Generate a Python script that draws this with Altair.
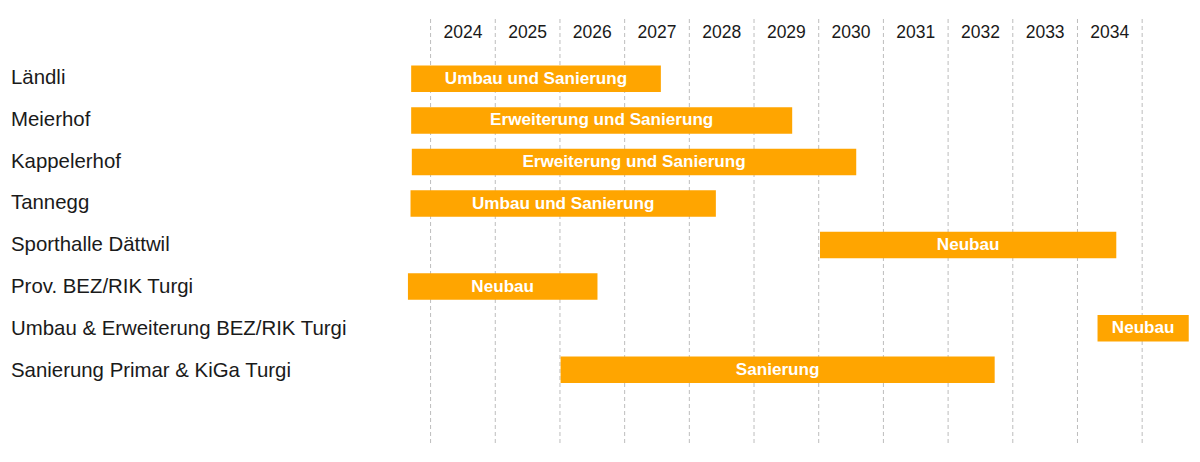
import altair as alt
import pandas as pd

# ---- data ----
rows = ["Ländli", "Meierhof", "Kappelerhof", "Tannegg", "Sporthalle Dättwil",
        "Prov. BEZ/RIK Turgi", "Umbau & Erweiterung BEZ/RIK Turgi",
        "Sanierung Primar & KiGa Turgi"]
starts = [2023.70, 2023.70, 2023.71, 2023.69, 2030.02, 2023.65, 2034.31, 2026.01]
ends = [2027.56, 2029.59, 2030.58, 2028.41, 2034.60, 2026.58, 2035.72, 2032.72]
phases = ["Umbau und Sanierung", "Erweiterung und Sanierung",
          "Erweiterung und Sanierung", "Umbau und Sanierung", "Neubau",
          "Neubau", "Neubau", "Sanierung"]
year_labels = list(range(2024, 2035))
grid_years = list(range(2024, 2036))

tasks = pd.DataFrame({"row": rows, "start": starts, "end": ends, "phase": phases})
tasks["mid"] = (tasks["start"] + tasks["end"]) / 2
yl = pd.DataFrame({"year": year_labels, "pos": [y + 0.5 for y in year_labels]})
gl = pd.DataFrame({"year": grid_years})

FONT = "Liberation Sans"
ORANGE = "#FFA500"

xscale = alt.Scale(domain=[2017.344, 2035.894], nice=False, zero=False)
ybar = alt.Scale(domain=rows, paddingInner=0.362, paddingOuter=0, range=[65.6, 382.96])
ylab = alt.Scale(domain=rows, paddingInner=0, paddingOuter=0, range=[57.0, 391.5])

grid = alt.Chart(gl).mark_rule(color="#bdbdbd", strokeWidth=1, strokeDash=[4, 3]).encode(
    x=alt.X("year:Q", scale=xscale, axis=None),
    y=alt.value(19),
    y2=alt.value(443),
)

years_txt = alt.Chart(yl).mark_text(font=FONT, fontSize=17.5, color="#1a1a1a",
                                    baseline="middle", align="center").encode(
    x=alt.X("pos:Q", scale=xscale, axis=None),
    y=alt.value(33),
    text=alt.Text("year:N"),
)

bars = alt.Chart(tasks).mark_bar(color=ORANGE).encode(
    x=alt.X("start:Q", scale=xscale, axis=None),
    x2="end:Q",
    y=alt.Y("row:N", scale=ybar, axis=None, sort=rows),
)

bar_txt = alt.Chart(tasks).mark_text(font=FONT, fontSize=17.1, fontWeight="bold",
                                     color="white", baseline="middle",
                                     align="center").encode(
    x=alt.X("mid:Q", scale=xscale, axis=None),
    y=alt.Y("row:N", scale=ybar, axis=None, sort=rows),
    text="phase:N",
)

labels = alt.Chart(tasks).mark_text(font=FONT, fontSize=20.4, color="#1a1a1a",
                                    baseline="middle", align="left").encode(
    x=alt.value(11),
    y=alt.Y("row:N", scale=ylab, axis=None, sort=rows),
    text="row:N",
)

main = alt.layer(bars, bar_txt).resolve_scale(y="shared")
chart = alt.layer(grid, years_txt, main, labels).resolve_scale(y="independent").properties(
    width=1200, height=462, padding=0, background="white"
).configure_view(stroke=None)

chart.save("out.html", embed_options={"renderer": "svg", "actions": False})
